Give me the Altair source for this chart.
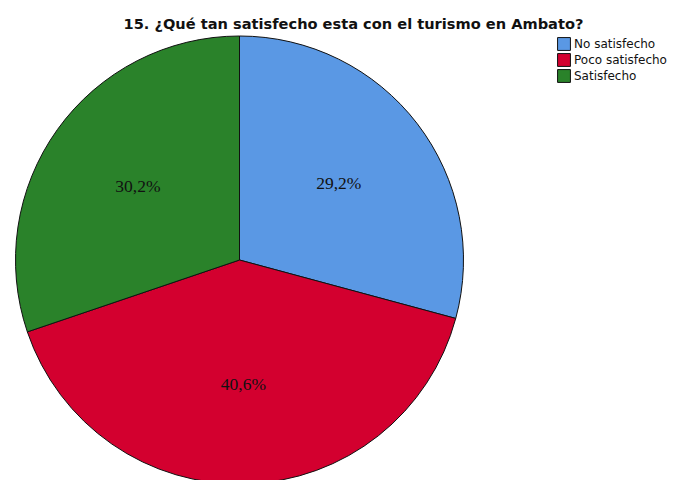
import altair as alt
import pandas as pd

categories = ["No satisfecho", "Poco satisfecho", "Satisfecho"]
percentages = [29.2, 40.6, 30.2]
labels = ["29,2%", "40,6%", "30,2%"]
colors = ["#5A98E4", "#D3002F", "#2A822A"]

df = pd.DataFrame({
    "cat": categories,
    "pct": percentages,
    "label": labels,
    "ord": list(range(len(categories))),
})

cx, cy, R = 231.5, 217, 224

base = alt.Chart(df).encode(
    theta=alt.Theta("pct:Q", stack=True),
    order=alt.Order("ord:Q"),
    x=alt.value(cx),
    y=alt.value(cy),
)

pie = base.mark_arc(stroke="#111111", strokeWidth=1, radius=R).encode(
    color=alt.Color(
        "cat:N",
        scale=alt.Scale(domain=categories, range=colors),
        legend=alt.Legend(
            title=None,
            orient="none",
            legendX=549,
            legendY=-6,
            symbolType="square",
            symbolSize=165,
            symbolStrokeColor="#111111",
            symbolStrokeWidth=1,
            symbolOpacity=1,
            labelFont="DejaVu Sans",
            labelFontSize=12,
            labelColor="#111111",
            rowPadding=-2,
            labelOffset=3,
        ),
    )
)

text = base.mark_text(
    radius=125, font="Liberation Serif", fontSize=17.5, color="#111111", baseline="middle"
).encode(text="label:N")

chart = (
    alt.layer(pie, text)
    .properties(
        width=660,
        height=437,
        padding={"left": 0, "top": 35, "right": 0, "bottom": 0},
        autosize=alt.AutoSizeParams(type="none"),
        title=alt.TitleParams(
            "15. ¿Qué tan satisfecho esta con el turismo en Ambato?",
            font="DejaVu Sans",
            fontSize=14.6,
            fontWeight="bold",
            color="#111111",
            anchor="middle",
            frame="group",
            dx=15.5,
            offset=2,
        ),
    )
    .configure_view(stroke=None)
)

chart.save("out.html", embed_options={"renderer": "svg", "actions": False})
